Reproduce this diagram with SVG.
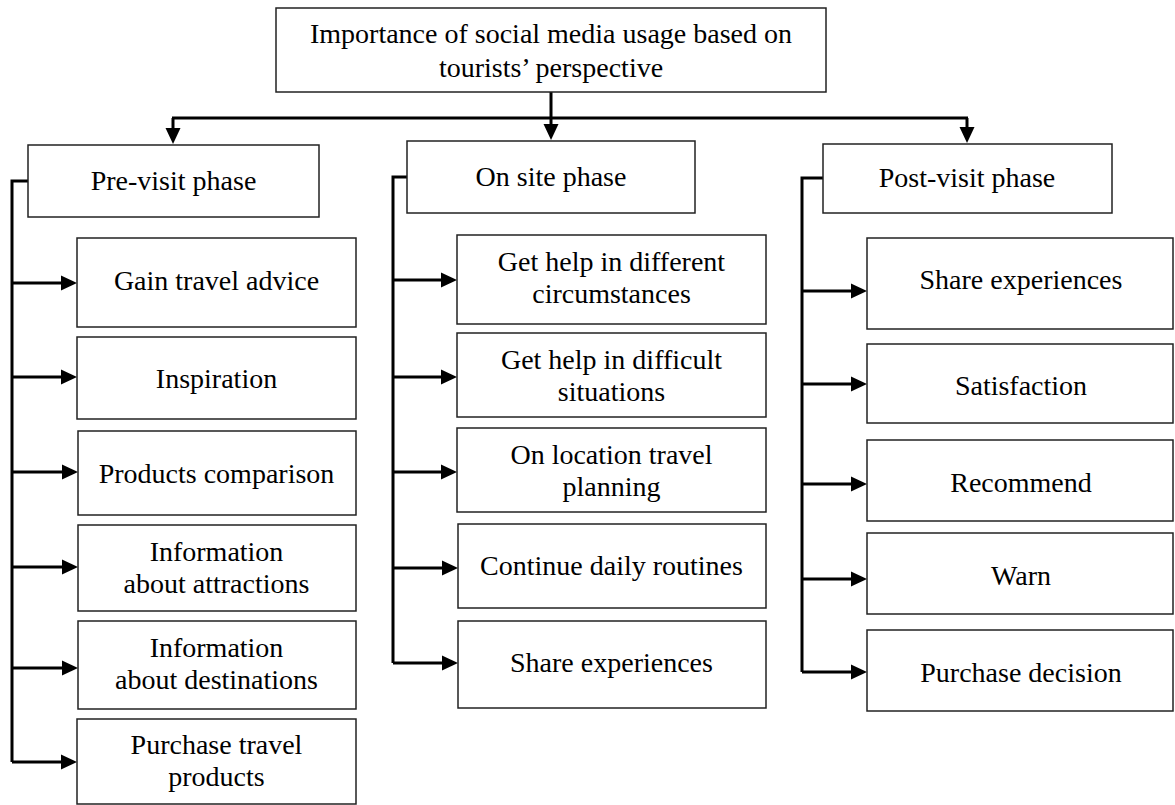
<svg xmlns="http://www.w3.org/2000/svg" width="1175" height="805" viewBox="0 0 1175 805">
<style>
.box{fill:#fff;stroke:#222;stroke-width:1.5}
.t{font-family:"Liberation Serif","Times New Roman",serif;font-size:28px;fill:#000;text-anchor:middle}
.c{fill:none;stroke:#000;stroke-width:3}
</style>
<defs>
<marker id="ah" markerWidth="17" markerHeight="16" refX="6" refY="8" orient="auto" markerUnits="userSpaceOnUse">
<path d="M0,0.5 L16,8 L0,15.5 z" fill="#000"/>
</marker>
</defs>
<rect width="1175" height="805" fill="#fff"/>
<g id="connectors">
<path class="c" d="M551,92 V118 M172,118 H968"/>
<path class="c" d="M173,118 V134" marker-end="url(#ah)"/>
<path class="c" d="M551,118 V130" marker-end="url(#ah)"/>
<path class="c" d="M967,118 V133" marker-end="url(#ah)"/>
<path class="c" d="M28,181 H12 V762"/>
<path class="c" d="M12,283 H67" marker-end="url(#ah)"/>
<path class="c" d="M12,377 H67" marker-end="url(#ah)"/>
<path class="c" d="M12,472 H68" marker-end="url(#ah)"/>
<path class="c" d="M12,567 H68" marker-end="url(#ah)"/>
<path class="c" d="M12,668 H68" marker-end="url(#ah)"/>
<path class="c" d="M12,762 H67" marker-end="url(#ah)"/>
<path class="c" d="M407,177 H393 V663"/>
<path class="c" d="M393,280 H447" marker-end="url(#ah)"/>
<path class="c" d="M393,377 H447" marker-end="url(#ah)"/>
<path class="c" d="M393,472 H447" marker-end="url(#ah)"/>
<path class="c" d="M393,568 H448" marker-end="url(#ah)"/>
<path class="c" d="M393,663 H448" marker-end="url(#ah)"/>
<path class="c" d="M823,178 H802 V672"/>
<path class="c" d="M802,291 H857" marker-end="url(#ah)"/>
<path class="c" d="M802,384 H857" marker-end="url(#ah)"/>
<path class="c" d="M802,484 H857" marker-end="url(#ah)"/>
<path class="c" d="M802,579 H857" marker-end="url(#ah)"/>
<path class="c" d="M802,672 H857" marker-end="url(#ah)"/>
</g>
<g id="root"><rect class="box" x="276" y="8" width="550" height="84"/><text class="t" x="551" y="43">Importance of social media usage based on</text><text class="t" x="551" y="77">tourists’ perspective</text></g>
<g id="pre"><rect class="box" x="28" y="145" width="291" height="72"/><text class="t" x="173.5" y="190">Pre-visit phase</text></g>
<g id="onsite"><rect class="box" x="407" y="141" width="288" height="72"/><text class="t" x="551" y="186">On site phase</text></g>
<g id="post"><rect class="box" x="823" y="144" width="289" height="69"/><text class="t" x="967" y="187">Post-visit phase</text></g>
<g id="pre1"><rect class="box" x="77" y="238" width="279" height="89"/><text class="t" x="216.5" y="290">Gain travel advice</text></g>
<g id="pre2"><rect class="box" x="77" y="337" width="279" height="82"/><text class="t" x="216.5" y="388">Inspiration</text></g>
<g id="pre3"><rect class="box" x="78" y="431" width="278" height="84"/><text class="t" x="216.5" y="483">Products comparison</text></g>
<g id="pre4"><rect class="box" x="78" y="525" width="278" height="86"/><text class="t" x="216.5" y="561">Information</text><text class="t" x="216.5" y="593">about attractions</text></g>
<g id="pre5"><rect class="box" x="78" y="621" width="278" height="88"/><text class="t" x="216.5" y="657">Information</text><text class="t" x="216.5" y="689">about destinations</text></g>
<g id="pre6"><rect class="box" x="77" y="719" width="279" height="85"/><text class="t" x="216.5" y="754">Purchase travel</text><text class="t" x="216.5" y="786">products</text></g>
<g id="on1"><rect class="box" x="457" y="235" width="309" height="89"/><text class="t" x="611.5" y="271">Get help in different</text><text class="t" x="611.5" y="303">circumstances</text></g>
<g id="on2"><rect class="box" x="457" y="333" width="309" height="84"/><text class="t" x="611.5" y="369">Get help in difficult</text><text class="t" x="611.5" y="401">situations</text></g>
<g id="on3"><rect class="box" x="457" y="428" width="309" height="84"/><text class="t" x="611.5" y="464">On location travel</text><text class="t" x="611.5" y="496">planning</text></g>
<g id="on4"><rect class="box" x="458" y="524" width="308" height="84"/><text class="t" x="611.5" y="575">Continue daily routines</text></g>
<g id="on5"><rect class="box" x="458" y="621" width="308" height="87"/><text class="t" x="611.5" y="672">Share experiences</text></g>
<g id="post1"><rect class="box" x="867" y="238" width="306" height="91"/><text class="t" x="1021" y="289">Share experiences</text></g>
<g id="post2"><rect class="box" x="867" y="344" width="306" height="79"/><text class="t" x="1021" y="395">Satisfaction</text></g>
<g id="post3"><rect class="box" x="867" y="440" width="306" height="81"/><text class="t" x="1021" y="492">Recommend</text></g>
<g id="post4"><rect class="box" x="867" y="533" width="306" height="81"/><text class="t" x="1021" y="585">Warn</text></g>
<g id="post5"><rect class="box" x="867" y="630" width="306" height="81"/><text class="t" x="1021" y="682">Purchase decision</text></g>
</svg>
